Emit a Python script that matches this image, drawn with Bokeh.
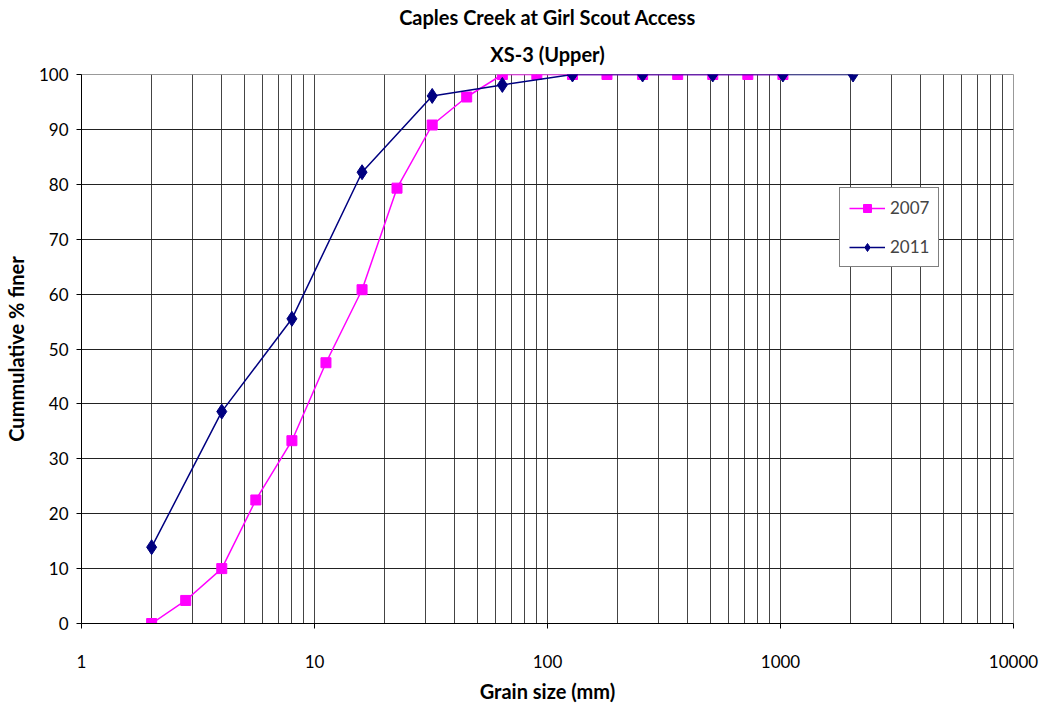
from bokeh.plotting import figure
from bokeh.models import (Title, Legend, LegendItem, FixedTicker, Range1d,
                          CustomJSTickFormatter)
from bokeh.embed import file_html
from bokeh.resources import INLINE

# Data
size_2007 = [2, 2.8, 4, 5.6, 8, 11.2, 16, 22.6, 32, 45, 64, 90, 128, 180, 256, 362, 512, 724, 1024]
pct_2007 = [0, 4.2, 10, 22.5, 33.3, 47.5, 60.8, 79.3, 90.8, 95.9, 100, 100, 100, 100, 100, 100, 100, 100, 100]
size_2011 = [2, 4, 8, 16, 32, 64, 128, 256, 512, 1024, 2048]
pct_2011 = [13.9, 38.6, 55.5, 82.2, 96.1, 98.1, 100, 100, 100, 100, 100]
x_ticks = [1, 10, 100, 1000, 10000]
y_ticks = list(range(0, 101, 10))
title_main = "Caples Creek at Girl Scout Access"
title_sub = "XS-3 (Upper)"

FONT = "Lato"

p = figure(width=1047, height=705, x_axis_type="log", output_backend="svg",
           toolbar_location=None, x_range=Range1d(1, 10000), y_range=Range1d(0, 100),
           min_border_left=80, min_border_right=34, min_border_top=10, min_border_bottom=10)

p.add_layout(Title(text=title_sub, align="center", text_font=FONT, text_font_size="20px",
                   text_font_style="bold", text_color="#000000",
                   offset=-23, standoff=18), "above")
p.add_layout(Title(text=title_main, align="center", text_font=FONT, text_font_size="20px",
                   text_font_style="bold", text_color="#000000",
                   offset=-23, standoff=4), "above")

# grid
minor = []
for d in [1, 10, 100, 1000]:
    for k in range(1, 10):
        minor.append(d * k)
minor.append(10000)
p.xgrid.ticker = FixedTicker(ticks=minor)
p.xgrid.grid_line_color = "#444444"
p.xgrid.grid_line_width = 1
p.ygrid.ticker = FixedTicker(ticks=y_ticks)
p.ygrid.grid_line_color = "#222222"
p.ygrid.grid_line_width = 1
p.outline_line_color = "#999999"

p.xaxis.ticker = FixedTicker(ticks=x_ticks)
p.xaxis.formatter = CustomJSTickFormatter(code="return tick.toFixed(0);")
p.yaxis.ticker = FixedTicker(ticks=y_ticks)
for ax in [p.xaxis[0], p.yaxis[0]]:
    ax.major_label_text_font = FONT
    ax.major_label_text_font_size = "17px"
    ax.major_label_text_color = "#000000"
    ax.axis_line_color = "#000000"
    ax.major_tick_line_color = "#000000"
    ax.major_tick_out = 5
    ax.major_tick_in = 0
    ax.minor_tick_line_color = None
    ax.axis_label_text_font = FONT
    ax.axis_label_text_font_size = "20px"
    ax.axis_label_text_font_style = "bold"
    ax.axis_label_text_color = "#000000"
p.xaxis.axis_label = "Grain size (mm)"
p.yaxis.axis_label = "Cummulative % finer"
p.xaxis.major_label_standoff = 26
p.xaxis.axis_label_standoff = 8
p.yaxis.major_label_standoff = 8
p.yaxis.axis_label_standoff = 8

l1 = p.line(size_2007, pct_2007, line_color="#FF00FF", line_width=1.5)
m1 = p.scatter(size_2007, pct_2007, marker="square", size=10, fill_color="#FF00FF",
               line_color="#FF00FF")
l2 = p.line(size_2011, pct_2011, line_color="#000080", line_width=1.5)
m2 = p.scatter(size_2011, pct_2011, marker="diamond", size=15, fill_color="#000080",
               line_color="#000080")

legend = Legend(items=[LegendItem(label="2007", renderers=[l1, m1]),
                       LegendItem(label="2011", renderers=[l2, m2])],
                location=(758, 356), label_text_font=FONT, label_text_font_size="17px",
                border_line_color="#000000", border_line_width=1, glyph_width=36,
                padding=9, spacing=18, background_fill_color="white",
                background_fill_alpha=1.0, margin=0)
p.add_layout(legend, "center")

open("out.html", "w").write(file_html(p, INLINE))
